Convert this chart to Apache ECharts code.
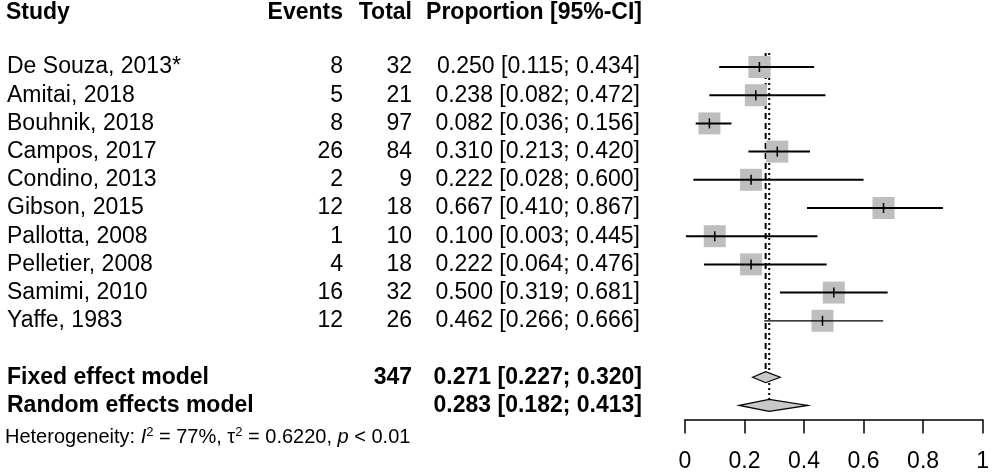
<!DOCTYPE html>
<html>
<head>
<meta charset="utf-8">
<script src="https://cdn.jsdelivr.net/npm/echarts@6/dist/echarts.min.js"></script>
<style>html,body{margin:0;padding:0;background:#fff}#c{width:992px;height:474px}</style>
</head>
<body>
<div id="c"></div>
<script>
// ---- data ----
const studies = ['De Souza, 2013*', 'Amitai, 2018', 'Bouhnik, 2018', 'Campos, 2017', 'Condino, 2013',
  'Gibson, 2015', 'Pallotta, 2008', 'Pelletier, 2008', 'Samimi, 2010', 'Yaffe, 1983'];
const events = [8, 5, 8, 26, 2, 12, 1, 4, 16, 12];
const totals = [32, 21, 97, 84, 9, 18, 10, 18, 32, 26];
const props = [0.250, 0.238, 0.082, 0.310, 0.222, 0.667, 0.100, 0.222, 0.500, 0.462];
const lower = [0.115, 0.082, 0.036, 0.213, 0.028, 0.410, 0.003, 0.064, 0.319, 0.266];
const upper = [0.434, 0.472, 0.156, 0.420, 0.600, 0.867, 0.445, 0.476, 0.681, 0.666];
const modelNames = ['Fixed effect model', 'Random effects model'];
const modelTotal = ['347', ''];
const modelEst = [0.271, 0.283];
const modelLower = [0.227, 0.182];
const modelUpper = [0.320, 0.413];
const headers = ['Study', 'Events', 'Total', 'Proportion [95%-CI]'];
const tickLabels = ['0', '0.2', '0.4', '0.6', '0.8', '1'];
const heterogeneity = {I2: '77%', tau2: '0.6220', p: '< 0.01'};

const FONT = '"Liberation Sans", Arial, sans-serif';
const fmt = v => v.toFixed(3);
const ciText = (e, l, u) => fmt(e) + ' [' + fmt(l) + '; ' + fmt(u) + ']';

const nStudy = studies.length;
const modelRow0 = nStudy + 1; // 11
const studyData = studies.map((s, i) => [i, props[i], lower[i], upper[i]]);
const modelData = modelNames.map((m, k) => [modelRow0 + k, modelEst[k], modelLower[k], modelUpper[k]]);

const chart = echarts.init(document.getElementById('c'), null, {renderer: 'canvas'});

const DIAMOND_H = [11, 12];

const option = {
  animation: false,
  backgroundColor: '#fff',
  grid: {left: 685, right: 5, top: 10.6, bottom: 54.5},
  xAxis: {
    type: 'value', min: 0, max: 1, interval: 0.2, position: 'bottom',
    axisLine: {show: true, onZero: false, lineStyle: {color: '#000', width: 1.5}},
    axisTick: {show: true, length: 14, lineStyle: {color: '#000', width: 1.5}},
    splitLine: {show: false},
    axisLabel: {fontSize: 23, color: '#000', fontFamily: FONT, margin: 31,
      formatter: (v) => tickLabels[Math.round(v / 0.2)]}
  },
  yAxis: {type: 'value', min: -2, max: 12.5, inverse: true, show: false},
  series: [
    // reference lines (fixed dashed, random dotted)
    {
      type: 'custom', silent: true, z: 1,
      data: modelData,
      renderItem: function (params, api) {
        const k = params.dataIndex;
        const row = api.value(0), est = api.value(1);
        const top = api.coord([est, -0.5]);
        const bot = api.coord([est, row]);
        return {
          type: 'line',
          shape: {x1: top[0], y1: top[1], x2: bot[0], y2: bot[1] - DIAMOND_H[k] / 2},
          style: {stroke: '#000', lineWidth: 2, lineDash: k === 0 ? [6, 4] : [2, 3]}
        };
      }
    },
    // study squares + CIs
    {
      type: 'custom', silent: true, z: 2,
      data: studyData,
      renderItem: function (params, api) {
        const row = api.value(0);
        const c = api.coord([api.value(1), row]);
        const l = api.coord([api.value(2), row]);
        const u = api.coord([api.value(3), row]);
        const s = 22;
        const lw = params.dataIndex === nStudy - 1 ? 1.2 : 2;
        return {
          type: 'group',
          children: [
            {type: 'rect', shape: {x: c[0] - s / 2, y: c[1] - s / 2, width: s, height: s},
              style: {fill: '#bebebe'}},
            {type: 'line', shape: {x1: l[0], y1: l[1], x2: u[0], y2: u[1]},
              style: {stroke: '#000', lineWidth: lw}},
            {type: 'line', shape: {x1: c[0], y1: c[1] - 5, x2: c[0], y2: c[1] + 5},
              style: {stroke: '#000', lineWidth: 1.5}}
          ]
        };
      }
    },
    // diamonds
    {
      type: 'custom', silent: true, z: 3,
      data: modelData,
      renderItem: function (params, api) {
        const row = api.value(0);
        const h = DIAMOND_H[params.dataIndex] / 2;
        const c = api.coord([api.value(1), row]);
        const l = api.coord([api.value(2), row]);
        const u = api.coord([api.value(3), row]);
        return {
          type: 'polygon',
          shape: {points: [[l[0], c[1]], [c[0], c[1] - h], [u[0], c[1]], [c[0], c[1] + h]]},
          style: {fill: '#c8c8c8', stroke: '#000', lineWidth: 1.2}
        };
      }
    },
    // text table
    {
      type: 'custom', silent: true, z: 4, clip: false,
      data: [0],
      renderItem: function (params, api) {
        const children = [];
        const yOf = r => api.coord([0, r])[1];
        const txt = (x, y, t, align, bold, size) => ({
          type: 'text', x: x, y: y,
          style: {text: t, align: align, verticalAlign: 'middle', fill: '#000',
            fontSize: size || 23, fontFamily: FONT, fontWeight: bold ? 'bold' : 'normal'}
        });
        const yh = yOf(-1.93);
        children.push(txt(6, yh, headers[0], 'left', true));
        children.push(txt(343, yh, headers[1], 'right', true));
        children.push(txt(412, yh, headers[2], 'right', true));
        children.push(txt(642, yh, headers[3], 'right', true));
        for (let i = 0; i < nStudy; i++) {
          const y = yOf(i);
          children.push(txt(7, y, studies[i], 'left', false));
          children.push(txt(343, y, String(events[i]), 'right', false));
          children.push(txt(412, y, String(totals[i]), 'right', false));
          children.push(txt(640, y, ciText(props[i], lower[i], upper[i]), 'right', false));
        }
        for (let k = 0; k < modelNames.length; k++) {
          const y = yOf(modelRow0 + k);
          children.push(txt(7, y, modelNames[k], 'left', true));
          if (modelTotal[k]) children.push(txt(412, y, modelTotal[k], 'right', true));
          children.push(txt(642, y, ciText(modelEst[k], modelLower[k], modelUpper[k]), 'right', true));
        }
        const yhet = yOf(13.15);
        children.push({
          type: 'text', x: 5, y: yhet,
          style: {
            text: '{n|Heterogeneity: }{i|I}{s|2}{n| = ' + heterogeneity.I2 + ', τ}{s|2}{n| = ' +
              heterogeneity.tau2 + ', }{i|p}{n| ' + heterogeneity.p + '}',
            align: 'left', verticalAlign: 'middle', fill: '#000', fontFamily: FONT, fontSize: 20,
            rich: {
              n: {fontSize: 20, fontFamily: FONT, fill: '#000', lineHeight: 24},
              i: {fontSize: 20, fontFamily: FONT, fontStyle: 'italic', fill: '#000', lineHeight: 24},
              s: {fontSize: 13, fontFamily: FONT, fill: '#000', lineHeight: 24, verticalAlign: 'top'}
            }
          }
        });
        return {type: 'group', children: children};
      }
    }
  ]
};
chart.setOption(option);
</script>
</body>
</html>
